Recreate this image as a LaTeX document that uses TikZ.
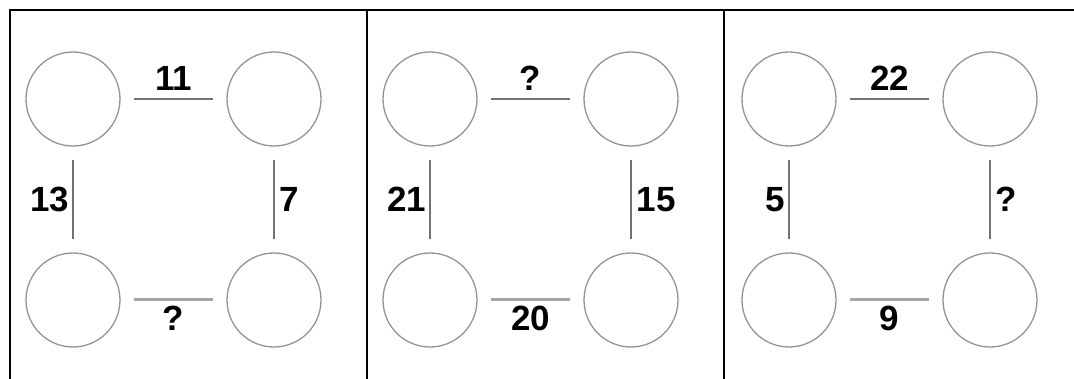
\documentclass[tikz,border=0pt]{standalone}
\usepackage{fontspec}
\setmainfont{Liberation Sans}
\begin{document}
\begin{tikzpicture}[x=1pt, y=-1pt, line width=1.2pt,
    ring/.style={circle, draw=black!42, line width=1.3pt, minimum size=94pt, inner sep=0pt},
    link/.style={draw=black!55, line width=1.2pt, shorten <=13pt, shorten >=13pt},
    thick link/.style={draw=black!35, line width=3pt, shorten <=13pt, shorten >=13pt},
    num/.style={font=\fontsize{35}{38}\selectfont\bfseries, inner sep=0pt}]
  \useasboundingbox (0,0) rectangle (1074,379);
  % frame: top rule and panel separators
  \draw[line width=2pt] (9.5,379) -- (9.5,10) -- (1074,10);
  \draw[line width=2pt] (367,10) -- (367,379);
  \draw[line width=2pt] (724,10) -- (724,379);
  % three puzzles: offset / top / left / right / bottom
  \foreach \p/\ox/\ltop/\lleft/\lright/\lbot in {1/0/11/13/7/?, 2/357/?/21/15/20, 3/716/22/5/?/9} {
    \node[ring] (tl\p) at (73+\ox,99) {};
    \node[ring] (tr\p) at (274+\ox,99) {};
    \node[ring] (bl\p) at (73+\ox,300) {};
    \node[ring] (br\p) at (274+\ox,300) {};
    \path[link] (tl\p) -- node[num, above=8pt] {\ltop} (tr\p);
    \path[link] (tl\p) -- node[num, left=3pt] {\lleft} (bl\p);
    \path[link] (tr\p) -- node[num, right=5pt] {\lright} (br\p);
    \path[thick link] (bl\p) -- node[num, below=5pt] {\lbot} (br\p);
  }
\end{tikzpicture}
\end{document}
